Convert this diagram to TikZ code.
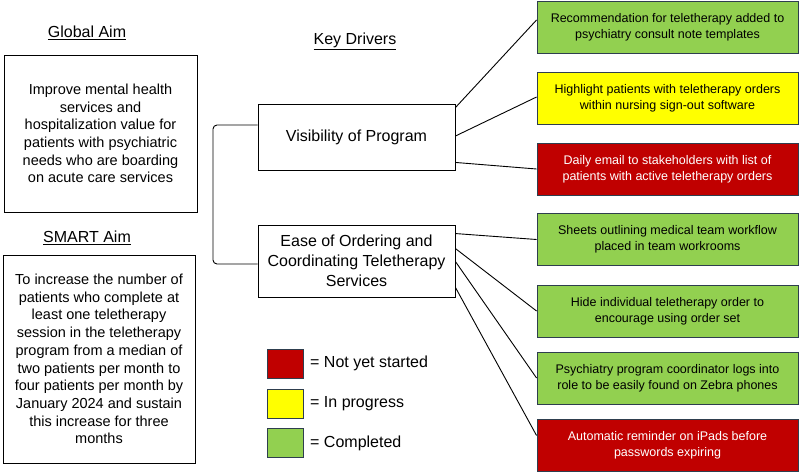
\documentclass[tikz,border=0pt]{standalone}
\usepackage{fontspec}
\setmainfont{Liberation Sans}
\usetikzlibrary{calc}
\definecolor{cgreen}{HTML}{92D050}
\definecolor{cyellow}{HTML}{FFFF00}
\definecolor{cred}{HTML}{C00000}
\definecolor{cborder}{HTML}{2E3E4E}
\tikzset{
  aimbox/.style={draw=black, line width=0.9pt, align=center, inner sep=0pt, font=\fontsize{14.5}{17.7}\selectfont},
  drvbox/.style={draw=black, line width=0.9pt, align=center, inner sep=0pt, minimum width=197pt, font=\fontsize{16}{20}\selectfont},
  actbox/.style={draw=cborder, line width=0.9pt, align=center, inner sep=0pt, minimum width=261pt, minimum height=52pt, font=\fontsize{12.5}{16}\selectfont},
  done/.style={actbox, fill=cgreen},
  prog/.style={actbox, fill=cyellow},
  notyet/.style={actbox, fill=cred, text=white},
  title/.style={font=\fontsize{16}{19}\selectfont},
  legsq/.style={draw=cborder, line width=0.9pt, minimum width=36pt, minimum height=29pt, inner sep=0pt},
  legtxt/.style={anchor=west, font=\fontsize{16}{19}\selectfont, inner sep=0pt},
  conn/.style={draw=black, line width=0.9pt}
}
\begin{document}
\begin{tikzpicture}[x=1pt,y=-1pt]
\useasboundingbox (0,0) rectangle (800,474);
% titles
\node[title] (gtitle) at (87,33) {\underline{Global Aim}};
\node[title] (stitle) at (87,238) {\underline{SMART Aim}};
\node[title] (ktitle) at (355,41) {\underline{Key Drivers}};
% aims
\node[aimbox, minimum width=193pt, minimum height=157pt] (global) at (100.5,133.5)
 {Improve mental health\\services and\\hospitalization value for\\patients with psychiatric\\needs who are boarding\\on acute care services};
\node[aimbox, minimum width=192pt, minimum height=208pt] (smart) at (99,359)
 {To increase the number of\\patients who complete at\\least one teletherapy\\session in the teletherapy\\program from a median of\\two patients per month to\\four patients per month by\\January 2024 and sustain\\this increase for three\\months};
% drivers
\node[drvbox, minimum height=66pt] (vis) at (356.5,137) {Visibility of Program};
\node[drvbox, minimum height=72pt] (ease) at (356.5,261) {Ease of Ordering and\\Coordinating Teletherapy\\Services};
% actions
\node[done]   (r1) at (667.5,27.5)  {Recommendation for teletherapy added to\\psychiatry consult note templates};
\node[prog]   (r2) at (667.5,98.5)  {Highlight patients with teletherapy orders\\within nursing sign-out software};
\node[notyet] (r3) at (667.5,169)   {Daily email to stakeholders with list of\\patients with active teletherapy orders};
\node[done]   (r4) at (667.5,239.5) {Sheets outlining medical team workflow\\placed in team workrooms};
\node[done]   (r5) at (667.5,311)   {Hide individual teletherapy order to\\encourage using order set};
\node[done]   (r6) at (667.5,378)   {Psychiatry program coordinator logs into\\role to be easily found on Zebra phones};
\node[notyet] (r7) at (667.5,445.5) {Automatic reminder on iPads before\\passwords expiring};
% bracket
\coordinate (bt) at (213,125);
\coordinate (bb) at (213,264);
\draw[conn, rounded corners=4pt] ([yshift=12pt]vis.west) -- (bt) -- (bb) -- ([yshift=-3pt]ease.west);
% connectors
\draw[conn] ([yshift=-4pt]vis.north east) -- ([yshift=7.5pt]r1.west);
\draw[conn] ([yshift=1pt]vis.east) -- ([yshift=1.5pt]r2.west);
\draw[conn] ([yshift=8pt]vis.south east) -- (r3.west);
\draw[conn] ([yshift=-9pt]ease.north east) -- (r4.west);
\draw[conn] ([yshift=-24pt]ease.north east) -- (r5.west);
\draw[conn] ([yshift=-37pt]ease.north east) -- (r6.west);
\draw[conn] ([yshift=10pt]ease.south east) -- ([yshift=10pt]r7.west);
% legend
\node[legsq, fill=cred]    (l1) at (285,363.5) {};
\node[legsq, fill=cyellow] (l2) at (285,403.5) {};
\node[legsq, fill=cgreen]  (l3) at (285,443) {};
\node[legtxt] (t1) at (310,363.5) {= Not yet started};
\node[legtxt] (t2) at (310,403.5) {= In progress};
\node[legtxt] (t3) at (310,443) {= Completed};
\end{tikzpicture}
\end{document}
